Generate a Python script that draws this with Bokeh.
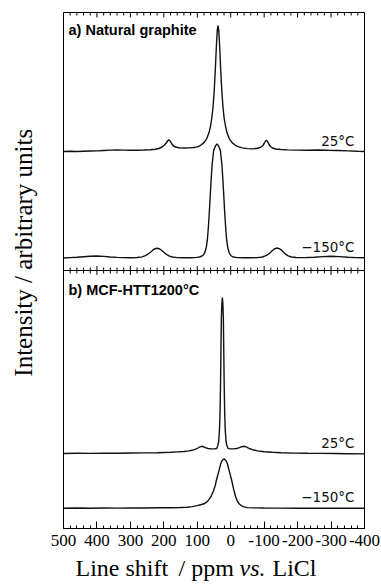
from bokeh.plotting import figure
from bokeh.models import LinearAxis, FixedTicker, Label, Span, Range1d
from bokeh.layouts import row, column
from bokeh.embed import file_html
from bokeh.resources import INLINE

# ---------------- data (ppm vs. LiCl, intensity in arbitrary units) ----------------
# a) Natural graphite, 25 °C
a25_ppm = [500, 480, 460, 440, 420, 400, 380, 360, 340, 320, 300, 280, 260, 240, 225, 215,
           205, 198, 193, 189, 186, 183, 180, 176, 171, 165, 155, 140, 125, 110, 100, 90,
           80, 72, 65, 60, 56, 53, 50, 48, 46, 44, 42, 40, 38, 36, 34, 32, 30, 28, 26, 23,
           20, 16, 11, 4, -4, -14, -24, -35, -50, -65, -80, -88, -95, -100, -104, -107,
           -110, -114, -119, -125, -135, -150, -170, -200, -230, -260, -290, -320, -350,
           -380, -400]
a25_int = [0.0, 0.2, 0.0, 0.3, 0.5, 0.6, 1.0, 1.4, 1.6, 1.4, 1.2, 1.3, 1.5, 1.8, 2.3, 3.0,
           4.5, 6.5, 8.5, 10.5, 11.5, 11.3, 9.8, 7.5, 5.5, 4.5, 3.8, 3.5, 3.6, 4.0, 4.6, 6.2,
           8.9, 12.7, 18.7, 26.0, 35.0, 44.0, 57.5, 69.0, 82.4, 97.0, 111.0, 122.0, 126.0,
           122.0, 111.0, 97.0, 82.4, 69.0, 57.5, 44.0, 34.2, 26.0, 18.7, 12.7, 8.9, 6.2, 4.6,
           3.6, 2.9, 2.6, 3.3, 4.0, 5.5, 8.0, 10.5, 11.3, 9.8, 7.5, 5.0, 3.5, 2.5, 2.0, 1.6,
           1.4, 1.2, 1.5, 1.2, 1.0, 0.6, 0.2, 0.0]

# a) Natural graphite, -150 °C
a150_ppm = [500, 480, 460, 440, 420, 400, 380, 360, 340, 320, 300, 280, 265, 255, 248, 240,
            233, 226, 220, 214, 207, 200, 193, 185, 175, 160, 140, 120, 101, 93, 86, 81, 77,
            73, 70, 67.5, 64.5, 61.5, 58.5, 55.5, 51, 46, 41, 36, 31, 26.5, 23.5, 20.5, 17.5,
            14.5, 12, 9, 5, 0, -7, -19, -40, -60, -80, -95, -103, -111, -118, -124, -131,
            -138, -145, -152, -158, -164, -172, -182, -195, -220, -250, -275, -300, -325,
            -350, -375, -400]
a150_int = [0.2, 0.6, 1.0, 1.5, 2.0, 2.2, 1.8, 1.2, 0.8, 0.6, 0.5, 0.7, 1.3, 2.6, 4.0, 6.0,
            8.0, 9.5, 10.0, 9.5, 8.0, 6.0, 4.0, 2.3, 1.2, 0.6, 0.4, 0.5, 0.8, 1.2, 2.2, 3.5,
            6.0, 11.0, 18.0, 27.7, 43.0, 61.0, 79.0, 94.0, 107.7, 112.0, 114.4, 112.0, 107.7,
            94.0, 79.0, 61.0, 43.0, 27.7, 18.0, 11.0, 6.0, 2.7, 1.2, 0.6, 0.4, 0.4, 0.6, 1.2,
            2.3, 3.5, 5.5, 7.5, 9.3, 10.2, 9.5, 8.0, 6.0, 4.0, 2.3, 1.2, 0.7, 0.6, 1.0, 1.6,
            2.0, 1.6, 1.0, 0.6, 0.4]

# b) MCF-HTT1200 °C, 25 °C
b25_ppm = [500, 460, 420, 380, 340, 300, 260, 220, 180, 160, 140, 125, 115, 105, 98, 92, 87,
           82, 76, 68, 58, 48, 42, 38.5, 36, 33.5, 32, 30.5, 29.5, 28, 26.5, 25, 23.5, 22,
           20.5, 19.5, 18, 16.5, 14, 11.5, 8, 2, -8, -18, -26, -33, -42, -48, -55, -65, -80,
           -100, -125, -150, -190, -230, -270, -310, -350, -400]
b25_int = [0.0, 0.2, 0.1, 0.3, 0.3, 0.5, 0.6, 0.8, 1.2, 1.6, 2.0, 2.6, 3.2, 4.3, 5.5, 6.6,
           7.2, 6.8, 5.8, 5.0, 4.6, 4.6, 5.0, 8.0, 12.0, 24.4, 40.0, 67.7, 95.0, 134.7, 150.0,
           156.0, 150.0, 134.7, 95.0, 67.7, 40.0, 24.4, 12.0, 8.0, 5.2, 4.6, 4.6, 5.0, 5.8,
           6.8, 7.2, 6.4, 5.0, 3.8, 2.6, 1.8, 1.2, 0.8, 0.4, 0.2, 0.1, 0.0, -0.2, -0.4]

# b) MCF-HTT1200 °C, -150 °C
b150_ppm = [500, 460, 420, 380, 340, 300, 260, 220, 180, 150, 130, 115, 100, 90, 80, 70, 60,
            52, 46, 43, 38, 34, 30, 26, 20, 14, 10, 5, 0, -3, -8, -15, -20, -25, -32, -40,
            -50, -70, -100, -150, -200, -250, -300, -350, -400]
b150_int = [0.0, 0.2, 0.0, 0.2, 0.1, 0.3, 0.2, 0.4, 0.5, 0.7, 1.0, 1.6, 2.6, 3.5, 4.4, 6.5,
            11.0, 17.0, 23.0, 27.7, 34.0, 39.0, 44.4, 47.5, 49.4, 47.5, 44.4, 38.0, 31.5, 27.7,
            20.0, 11.0, 7.0, 4.4, 2.4, 1.3, 0.6, 0.3, 0.2, 0.1, 0.0, 0.1, 0.0, -0.1, 0.0]

major_ticks = [500, 400, 300, 200, 100, 0, -100, -200, -300, -400]
tick_labels = ["500", "400", "300", "200", "100", "0", "-100", "-200", "-300", "-400"]
temp_labels = ["25°C", "\u2212150°C"]
panel_titles = ["a) Natural graphite", "b) MCF-HTT1200°C"]
y_title = "Intensity  /  arbitrary units"
x_title_parts = ["Line shift", "/ ppm", "vs.", "LiCl"]

# ---------------- layout (page pixels) ----------------
TOTAL_W, TOTAL_H = 381, 584
STRIP_W = 40                      # left strip holding the y title
STRIP_H = 29                      # bottom strip holding the x title
W, H = TOTAL_W - STRIP_W, TOTAL_H - STRIP_H
L, R, T, B = 23, 17, 12, 27       # frame: x 63..364, y 12..528 on the page
FX0, FX1 = STRIP_W + L, TOTAL_W - R
FY0, FY1 = T, H - B
XMIN, XMAX = 500, -400
YTOP = FY1 - FY0                  # data y runs 0..YTOP (one unit = one pixel)
MID = YTOP / 2
minor_ticks = [v for v in range(XMAX, XMIN + 1, 20) if v not in major_ticks]

def ppm_at(px):                   # page pixel column -> ppm (annotation placement)
    return XMIN + (px - FX0) * (XMAX - XMIN) / (FX1 - FX0)

p = figure(width=W, height=H, x_range=Range1d(XMIN, XMAX), y_range=Range1d(0, YTOP),
           output_backend="svg", toolbar_location=None,
           x_axis_location=None, y_axis_location=None,
           min_border_left=L, min_border_right=R, min_border_top=T, min_border_bottom=B)
p.outline_line_color = "black"
p.outline_line_width = 1
p.background_fill_color = "white"
p.border_fill_color = "white"
p.grid.visible = False

ax = LinearAxis(ticker=FixedTicker(ticks=major_ticks, minor_ticks=minor_ticks))
ax.axis_line_color = "black"
ax.major_tick_line_color = "black"
ax.minor_tick_line_color = "black"
ax.major_tick_out = 0
ax.minor_tick_out = 0
ax.major_tick_in = 7
ax.minor_tick_in = 3
ax.major_label_overrides = dict(zip(major_ticks, tick_labels))
ax.major_label_text_font = "Liberation Serif"
ax.major_label_text_font_size = "17px"
ax.major_label_text_color = "black"
ax.major_label_standoff = 6
p.add_layout(ax, "below")

# inward ticks along the top edge and on both sides of the middle divider
nM, nm = len(major_ticks), len(minor_ticks)
p.segment(x0=major_ticks, y0=[YTOP - 5] * nM, x1=major_ticks, y1=[YTOP] * nM,
          line_color="black", line_width=1)
p.segment(x0=minor_ticks, y0=[YTOP - 3] * nm, x1=minor_ticks, y1=[YTOP] * nm,
          line_color="black", line_width=1)
p.add_layout(Span(location=MID, dimension="width", line_color="black", line_width=1))
p.segment(x0=major_ticks, y0=[MID - 4.5] * nM, x1=major_ticks, y1=[MID + 4.5] * nM,
          line_color="black", line_width=1)
p.segment(x0=minor_ticks, y0=[MID - 3] * nm, x1=minor_ticks, y1=[MID + 3] * nm,
          line_color="black", line_width=1)

# spectra (stacked with vertical offsets)
offsets = [377.0, 270.3, 75.0, 20.3]
for xs, ys_, off in ((a25_ppm, a25_int, offsets[0]), (a150_ppm, a150_int, offsets[1]),
                     (b25_ppm, b25_int, offsets[2]), (b150_ppm, b150_int, offsets[3])):
    p.line(xs, [v + off for v in ys_], line_color="#111111", line_width=1.4)

# temperature labels
for txt, off in zip(temp_labels * 2, offsets):
    p.add_layout(Label(x=ppm_at(354), y=off + 11, text=txt, text_align="right",
                       text_baseline="alphabetic", text_font="DejaVu Sans",
                       text_font_size="13.5px", text_color="#111111"))

# panel titles
for txt, ybase in zip(panel_titles, (YTOP - 17, MID - 19)):
    p.add_layout(Label(x=ppm_at(68), y=ybase, text=txt, text_align="left",
                       text_baseline="alphabetic", text_font="Liberation Sans",
                       text_font_style="bold", text_font_size="14.5px", text_color="black"))

# ---- left strip: rotated y title (frame kept at the same rows as the main frame) ----
yfig = figure(width=STRIP_W, height=TOTAL_H, x_range=Range1d(0, STRIP_W),
              y_range=Range1d(TOTAL_H - FY1, TOTAL_H - FY0),
              output_backend="svg", toolbar_location=None,
              x_axis_location=None, y_axis_location=None,
              min_border_left=0, min_border_right=0,
              min_border_top=FY0, min_border_bottom=TOTAL_H - FY1)
yfig.outline_line_color = None
yfig.grid.visible = False
yfig.add_layout(Label(x=23, y=TOTAL_H - 246, text=y_title, angle=90, angle_units="deg",
                      text_align="center", text_baseline="alphabetic",
                      text_font="Liberation Serif", text_font_size="25px",
                      text_color="black"))

# ---- bottom strip: x title with italic "vs." (frame kept at the main frame's columns) ----
xfig = figure(width=W, height=STRIP_H, x_range=Range1d(FX0, FX1), y_range=Range1d(0, STRIP_H),
              output_backend="svg", toolbar_location=None,
              x_axis_location=None, y_axis_location=None,
              min_border_left=L, min_border_right=R, min_border_top=0, min_border_bottom=0)
xfig.outline_line_color = None
xfig.grid.visible = False
for txt, px, style in zip(x_title_parts, (75, 178, 239, 272),
                          ("normal", "normal", "italic", "normal")):
    xfig.add_layout(Label(x=px, y=TOTAL_H - 567, text=txt, text_align="left",
                          text_baseline="alphabetic", text_font="Liberation Serif",
                          text_font_style=style, text_font_size="24px", text_color="black"))

layout = row(yfig, column(p, xfig))
open("out.html", "w").write(file_html(layout, INLINE))
